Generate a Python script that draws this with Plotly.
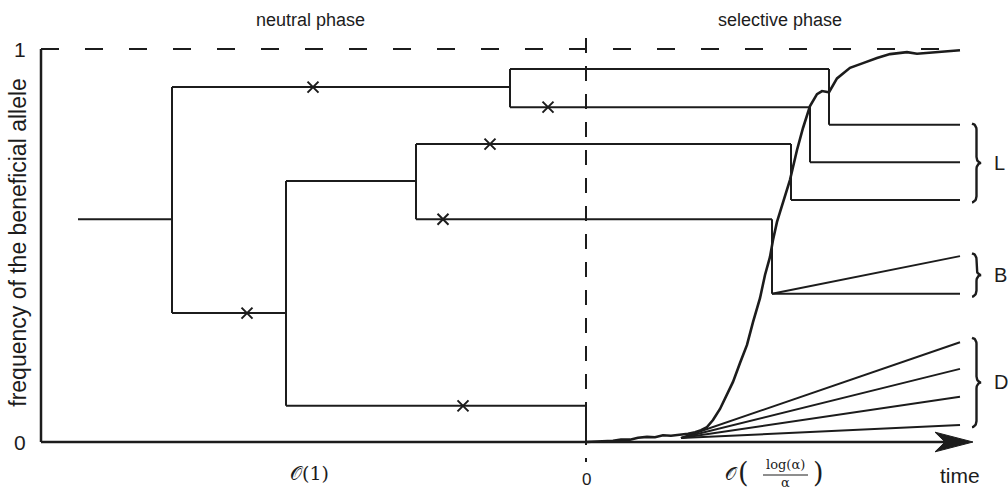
import numpy as np
import plotly.graph_objects as go

# ---------------- data ----------------
# genealogy segments (time, frequency-axis position)
seg_t0 = [-5.08, -4.14, -4.14, -0.76, -0.76, 2.43, 2.43, -0.76, 2.24, 2.24,
          -4.14, -3.00, -3.00, -1.70, -1.70, 2.05, 2.05, -1.70, 1.86, 1.86, 1.86,
          -3.00, 0.00]
seg_y0 = [0.567, 0.903, 0.903, 0.949, 0.949, 0.949, 0.807, 0.852, 0.852, 0.712,
          0.328, 0.664, 0.664, 0.758, 0.758, 0.758, 0.616, 0.567, 0.567, 0.377, 0.377,
          0.092, 0.092]
seg_t1 = [-4.14, -4.14, -0.76, -0.76, 2.43, 2.43, 3.74, 2.24, 2.24, 3.74,
          -3.00, -3.00, -1.70, -1.70, 2.05, 2.05, 3.74, 1.86, 1.86, 3.74, 3.74,
          0.00, 0.00]
seg_y1 = [0.567, 0.328, 0.903, 0.852, 0.949, 0.807, 0.807, 0.852, 0.712, 0.712,
          0.328, 0.092, 0.664, 0.567, 0.758, 0.616, 0.616, 0.567, 0.377, 0.377, 0.473,
          0.092, 0.000]

# lineages of type D (start on the sweep, end at sampling time)
d_start_t = 0.95
d_start_y = 0.010
d_end_t = 3.74
d_end_y = [0.254, 0.186, 0.115, 0.043]

# neutral mutations (x marks)
mut_t = [-2.73, -0.38, -0.96, -1.43, -3.39, -1.23]
mut_y = [0.903, 0.852, 0.758, 0.567, 0.328, 0.092]

# frequency of the beneficial allele during the sweep
sweep_t = [0.00, 0.14, 0.27, 0.35, 0.44, 0.52, 0.61, 0.69, 0.77, 0.85, 0.94, 1.02,
           1.09, 1.15, 1.21, 1.27, 1.34, 1.41, 1.47, 1.54, 1.61, 1.67, 1.74, 1.79,
           1.84, 1.87, 1.91, 1.94, 1.99, 2.04, 2.11, 2.17, 2.24, 2.31, 2.36, 2.43,
           2.51, 2.58, 2.64, 2.77, 2.91, 3.04, 3.21, 3.31, 3.47, 3.74]
sweep_f = [0.000, 0.001, 0.003, 0.006, 0.006, 0.011, 0.013, 0.012, 0.017, 0.016,
           0.018, 0.021, 0.025, 0.030, 0.038, 0.056, 0.084, 0.120, 0.153, 0.201,
           0.247, 0.305, 0.366, 0.425, 0.471, 0.514, 0.560, 0.585, 0.628, 0.667,
           0.743, 0.799, 0.855, 0.885, 0.893, 0.890, 0.925, 0.940, 0.952, 0.964,
           0.977, 0.987, 0.992, 0.988, 0.992, 0.997]

# groups of sampled lineages (brace extents)
group_labels = ["L", "B", "D"]
group_lo = [0.610, 0.370, 0.038]
group_hi = [0.810, 0.480, 0.265]

axis_t_min = -5.45
axis_t_max = 3.87
phase_labels = ["neutral phase", "selective phase"]
# --------------------------------------

# pixel <-> data scale (plot area = whole 1008x490 page)
PX_T = 100.0   # px per time unit
PX_F = 393.0   # px per frequency unit
x_range = [-5.86, (1008 - 586) / PX_T]
y_range = [(442 - 490) / PX_F, 442 / PX_F]

INK = "#1c1c1c"
fig = go.Figure()

def add_line(xs, ys, width=2.0, dash=None, color=INK):
    fig.add_trace(go.Scatter(x=xs, y=ys, mode="lines", hoverinfo="skip",
                             line=dict(color=color, width=width, dash=dash)))

# dashed reference lines
add_line([axis_t_min, d_end_t], [1, 1], width=2, dash="18px,26px")
add_line([0, 0], [1.028, -0.051], width=2, dash="15px,13px")

# axes
add_line([axis_t_min, axis_t_min], [1, 0], width=2.5)
add_line([axis_t_min, axis_t_max - 0.28], [0, 0], width=2.5)
# arrow head
ah = 0.025
fig.add_trace(go.Scatter(
    x=[axis_t_max, axis_t_max - 0.38, axis_t_max - 0.28, axis_t_max - 0.38, axis_t_max],
    y=[0, ah, 0, -ah, 0], mode="lines", fill="toself", fillcolor=INK,
    line=dict(color=INK, width=1), hoverinfo="skip"))

# genealogy
xs, ys = [], []
for a, b, c, d in zip(seg_t0, seg_y0, seg_t1, seg_y1):
    xs += [a, c, None]
    ys += [b, d, None]
for e in d_end_y:
    xs += [d_start_t, d_end_t, None]
    ys += [d_start_y, e, None]
add_line(xs, ys, width=2)

# sweep curve
add_line(sweep_t, sweep_f, width=2.6)

# mutations
fig.add_trace(go.Scatter(x=mut_t, y=mut_y, mode="markers", hoverinfo="skip",
                         marker=dict(symbol="x-thin", size=11,
                                     line=dict(color=INK, width=2))))

# braces
def brace(x0, lo, hi, w_px=9, r_px=6):
    w = w_px / PX_T
    rx = w / 2
    ry = r_px / PX_F
    mid = (lo + hi) / 2
    th = np.linspace(0, np.pi / 2, 12)
    bx, by = [], []
    bx += list(x0 + rx * np.sin(th)); by += list(hi - ry * (1 - np.cos(th)))
    bx += list(x0 + rx + rx * (1 - np.cos(th))); by += list(mid + ry - ry * np.sin(th))
    bx += list(x0 + rx + rx * (1 - np.cos(th[::-1]))); by += list(mid - ry + ry * np.sin(th[::-1]))
    bx += list(x0 + rx * np.sin(th[::-1])); by += list(lo + ry * (1 - np.cos(th[::-1])))
    return bx, by

bxs, bys = [], []
for lo, hi in zip(group_lo, group_hi):
    bx, by = brace(3.86, lo, hi)
    bxs += bx + [None]
    bys += by + [None]
add_line(bxs, bys, width=2.4)

# ---- text ----
FONT = "Liberation Sans, Arial, sans-serif"
SERIF = "DejaVu Serif, Liberation Serif, serif"

def txt(x, y, s, size=17, family=FONT, xanchor="center", yanchor="middle", angle=0):
    fig.add_annotation(x=x, y=y, text=s, showarrow=False, xanchor=xanchor,
                       yanchor=yanchor, textangle=angle, borderpad=0,
                       font=dict(family=family, size=size, color=INK))

txt(-2.76, 1.074, phase_labels[0], size=18)
txt(1.94, 1.074, phase_labels[1], size=18)
txt(-5.66, 1.0, "1", size=21)
txt(-5.66, 0.0, "0", size=21)
txt(-5.68, 0.507, "frequency of the beneficial allele", size=23, angle=-90)
txt(0.0, -0.095, "0", size=17)
txt(3.74, -0.084, "time", size=21)
for lab, lo, hi in zip(group_labels, group_lo, group_hi):
    txt(4.07, (lo + hi) / 2, lab, size=20, xanchor="left")

txt(-2.77, -0.079, "𝒪(1)", size=19, family=SERIF)
# O( log(alpha)/alpha )
txt(1.45, -0.079, "𝒪", size=18, family=SERIF)
txt(1.575, -0.078, "(", size=27, family=SERIF)
txt(2.325, -0.078, ")", size=27, family=SERIF)
txt(1.995, -0.0585, "log(α)", size=13, family=SERIF)
txt(1.995, -0.104, "α", size=13, family=SERIF)
add_line([1.77, 2.22], [-0.084, -0.084], width=1)

fig.update_layout(
    width=1008, height=490, margin=dict(l=0, r=0, t=0, b=0),
    paper_bgcolor="white", plot_bgcolor="white", showlegend=False,
    xaxis=dict(range=x_range, visible=False, fixedrange=True),
    yaxis=dict(range=y_range, visible=False, fixedrange=True),
)
fig.write_html("out.html")
